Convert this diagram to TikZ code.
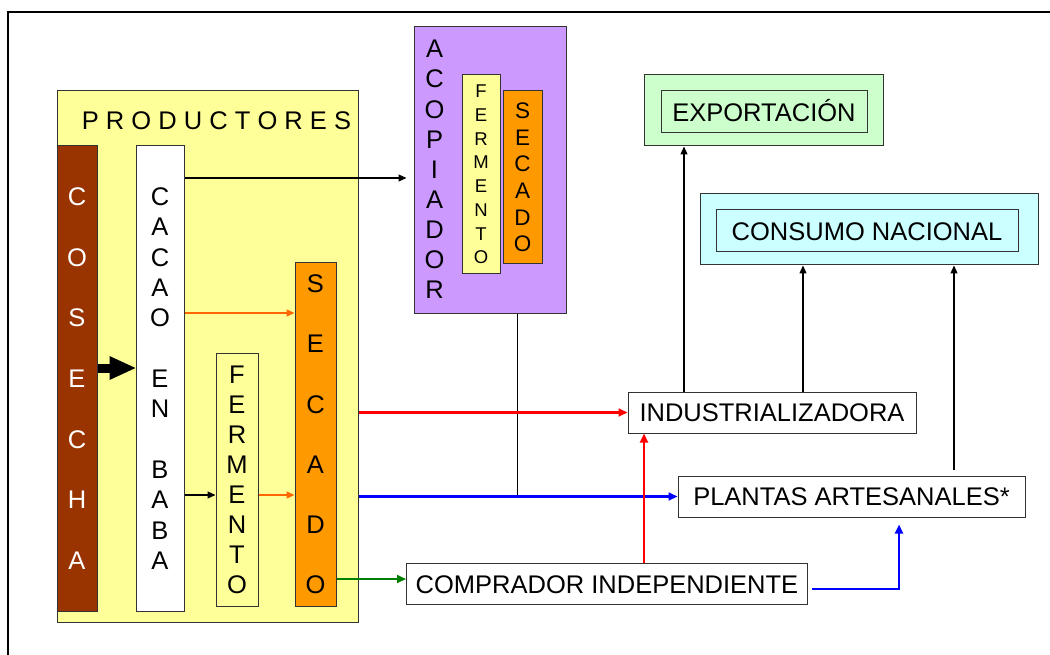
\documentclass[tikz,border=0pt]{standalone}
\usepackage{fontspec}
\setmainfont{Liberation Sans}
\usetikzlibrary{arrows.meta}
\definecolor{prodY}{HTML}{FFFF99}
\definecolor{cosC}{HTML}{993300}
\definecolor{secC}{HTML}{FF9900}
\definecolor{acopC}{HTML}{CC99FF}
\definecolor{expoC}{HTML}{CCFFCC}
\definecolor{consC}{HTML}{CCFFFF}
\definecolor{orL}{HTML}{FF6600}
\definecolor{grL}{HTML}{008000}
\begin{document}
\begin{tikzpicture}[x=1pt,y=-1pt,
  box/.style={draw=black!80,line width=1pt,inner sep=0pt,anchor=center},
  vstack/.style={box,align=center},
  lbl/.style={font=\fontsize{25.5}{30}\selectfont,text height=18.3pt,text depth=0pt},
  lblbox/.style={box,lbl},
  blk/.style={line width=1.2pt,-{Triangle[length=8pt,width=7pt]}},
  orarr/.style={orL,line width=1.3pt,-{Triangle[length=8pt,width=7pt]}},
  redarr/.style={red,line width=2.2pt,-{Triangle[length=9pt,width=8pt]}},
  bluearr/.style={blue,line width=2.2pt,-{Triangle[length=9pt,width=8pt]}},
  greenarr/.style={grL,line width=2.2pt,-{Triangle[length=9pt,width=8pt]}}]
\useasboundingbox (0,0) rectangle (1050,655);
\fill[white] (0,0) rectangle (1050,655);
% outer frame
\draw[line width=2.2pt] (8,665) -- (8,12) -- (1060,12);

% coordinates
\coordinate (xe) at (684,0);
\coordinate (xc1) at (803,0);
\coordinate (xc2) at (954,0);
\coordinate (xr) at (644,0);
\coordinate (xb) at (899,0);
\coordinate (xa) at (517.5,0);
\coordinate (ya) at (0,178);
\coordinate (yo) at (0,313);
\coordinate (yf) at (0,495);
\coordinate (yg) at (0,579);
\coordinate (yb) at (0,589);
\coordinate (yk) at (0,368);

% productores
\node[box,fill=prodY,minimum width=301pt,minimum height=531pt] (prod) at (207.5,356.5) {};
\node[lbl,inner sep=0pt] (prodtxt) at (216.5,120) {P R O D U C T O R E S};
\node[vstack,fill=cosC,text=white,minimum width=40pt,minimum height=465pt,
  font=\fontsize{25.5}{60.7}\selectfont] (cos) at (77,378.5) {C\\O\\S\\E\\C\\H\\A};
\node[vstack,fill=white,minimum width=48pt,minimum height=465pt,
  font=\fontsize{25.5}{30.33}\selectfont] (cacao) at (160,378.5)
  {C\\A\\C\\A\\O\\\mbox{}\\E\\N\\\mbox{}\\B\\A\\B\\A};
\node[vstack,fill=prodY,minimum width=42pt,minimum height=253pt,
  font=\fontsize{25.5}{30}\selectfont] (ferm) at (237,479.5) {F\\E\\R\\M\\E\\N\\T\\O};
\node[vstack,fill=secC,minimum width=41pt,minimum height=343pt,
  font=\fontsize{25.5}{60.2}\selectfont] (sec) at (315.5,434.5) {S\\E\\C\\A\\D\\O};

% acopiador
\node[box,fill=acopC,minimum width=152pt,minimum height=286pt] (acop) at (490,170) {};
\node[align=center,inner sep=0pt,font=\fontsize{25.5}{30.1}\selectfont] (acoptxt) at (434.5,169.5)
  {A\\C\\O\\P\\I\\A\\D\\O\\R};
\node[vstack,fill=prodY,minimum width=38pt,minimum height=199pt,
  font=\fontsize{18.5}{23.7}\selectfont] (aferm) at (481,174.5) {F\\E\\R\\M\\E\\N\\T\\O};
\node[vstack,fill=secC,minimum width=39pt,minimum height=173pt,
  font=\fontsize{22.5}{26.6}\selectfont] (asec) at (522.5,177.5) {S\\E\\C\\A\\D\\O};

% destinations
\node[box,fill=expoC,minimum width=239pt,minimum height=71pt] (expo) at (763.5,110.5) {};
\node[lblbox,fill=expoC,minimum width=206pt,minimum height=42pt] (expoin) at (764,112) {EXPORTACIÓN};
\node[box,fill=consC,minimum width=338pt,minimum height=71pt] (cons) at (869,229.5) {};
\node[lblbox,fill=consC,minimum width=302pt,minimum height=42pt] (consin) at (867,231) {CONSUMO NACIONAL};
\node[lblbox,fill=white,minimum width=288pt,minimum height=41pt] (ind) at (772,412.5) {INDUSTRIALIZADORA};
\node[lblbox,fill=white,minimum width=347pt,minimum height=41pt] (plant) at (851.5,496.5) {PLANTAS ARTESANALES*};
\node[lblbox,fill=white,minimum width=401pt,minimum height=41pt] (comp) at (607,584) {COMPRADOR INDEPENDIENTE};

% connectors inside productores
\draw[line width=9pt,-{Triangle[length=26pt,width=24pt,line width=0pt]}] (cos.east |- yk) -- (cacao.west |- yk);
\draw[blk,shorten >=7pt] (cacao.east |- ya) -- (acop.west |- ya);
\draw[orarr] (cacao.east |- yo) -- (sec.west |- yo);
\draw[blk] (cacao.east |- yf) -- (ferm.west |- yf);
\draw[orarr] (ferm.east |- yf) -- (sec.west |- yf);

% outgoing
\draw[line width=1.2pt] (acop.south -| xa) -- (xa |- plant.west);
\draw[redarr] (prod.east |- ind.west) -- (ind.west);
\draw[bluearr] (prod.east |- plant.west) -- (plant.west);
\draw[greenarr] (sec.east |- yg) -- (comp.west |- yg);
\draw[redarr] (comp.north -| xr) -- (ind.south -| xr);
\draw[bluearr,shorten <=4pt,shorten >=7pt] (comp.east |- yb) -| (plant.south -| xb);
\draw[blk] (ind.north -| xe) -- (expo.south -| xe);
\draw[blk] (ind.north -| xc1) -- (cons.south -| xc1);
\draw[blk,shorten <=6pt] (plant.north -| xc2) -- (cons.south -| xc2);
\end{tikzpicture}
\end{document}
